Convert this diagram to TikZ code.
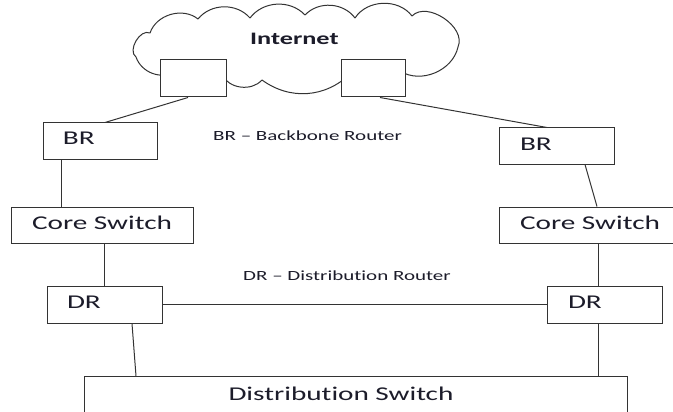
\documentclass[tikz,border=0pt]{standalone}
\usepackage{fontspec}
\setmainfont{Carlito}[FakeStretch=1.5,Ligatures=NoCommon]
\usetikzlibrary{calc}
\definecolor{ln}{HTML}{333333}
\definecolor{tx}{HTML}{1C1C2A}
\begin{document}
\begin{tikzpicture}[x=1pt,y=-1pt,
  box/.style={draw=ln,line width=1pt,fill=white,rectangle,inner ysep=0pt,
    text height=13pt,text depth=5pt,font=\fontsize{19.5}{22}\selectfont,text=tx},
  lbox/.style={box,align=left},
  wire/.style={draw=ln,line width=1pt},
  legend/.style={font=\fontsize{14}{16}\selectfont,text=tx,inner sep=0pt,anchor=base west}]
\useasboundingbox (0,0) rectangle (673,412);
\clip (0,0) rectangle (673,412);
% cloud
\draw[wire,line join=round] (175,72) to[bend left=50] (136,57) to[bend left=85] (150,33)
  to[bend left=55] (198,19) to[bend left=50] (250,18) to[bend left=50] (305,15)
  to[bend left=50] (355,18) to[bend left=55] (412,16) to[bend left=80] (458,47)
  to[bend left=55] (400,71) -- (350,74) to[bend left=40] (262,80) to[bend left=55] (222,75) -- cycle;
\coordinate (cloud) at (293,45);
\node[font=\bfseries\fontsize{17.5}{20}\selectfont,text=tx,inner sep=0pt,anchor=base west] (inet) at (250,44.3) {Internet};
\node[box,minimum width=66pt,minimum height=37pt] (lsq) at (193,78.5) {};
\node[box,minimum width=64pt,minimum height=37pt] (rsq) at (373,78.5) {};
% routers and switches
\node[lbox,inner xsep=20pt,text width=74pt,minimum height=36pt] (lbr) at (100,141) {BR};
\node[lbox,inner xsep=21pt,text width=73pt,minimum height=36pt] (rbr) at (556.5,146) {BR};
\node[box,minimum width=182pt,minimum height=36pt] (lcore) at (102,225) {Core Switch};
\node[box,minimum width=182pt,minimum height=36pt] (rcore) at (590,225) {Core Switch};
\node[lbox,inner xsep=20pt,text width=75pt,minimum height=37pt] (ldr) at (104.5,304.5) {DR};
\node[lbox,inner xsep=21pt,text width=73pt,minimum height=37pt] (rdr) at (604.5,304.5) {DR};
\node[box,anchor=north west,align=left,inner xsep=144pt,inner ysep=11pt,text width=255pt,
  text height=13pt,text depth=40pt] (ds) at (84,376) {Distribution Switch};
% legends
\node[legend] (brl) at (213,140.7) {BR – Backbone Router};
\node[legend] (drl) at (243,280) {DR – Distribution Router};
% connectors
\draw[wire] ([xshift=-5pt]lsq.south) -- ([xshift=5pt]lbr.north);
\draw[wire] ([xshift=7pt]rsq.south) -- ([xshift=-9.5pt]rbr.north);
\draw[wire] ([xshift=-39pt]lbr.south) -- ([xshift=-39pt]lbr.south |- lcore.north);
\draw[wire] ([xshift=28.5pt]rbr.south) -- ([xshift=7pt]rcore.north);
\draw[wire] (ldr.north |- lcore.south) -- (ldr.north);
\draw[wire] ([xshift=-6.5pt]rdr.north |- rcore.south) -- ([xshift=-6.5pt]rdr.north);
\draw[wire] (ldr.east) -- (rdr.west);
\draw[wire] ([xshift=27.5pt]ldr.south) -- ([xshift=31.5pt]ldr.south |- ds.north);
\draw[wire] ([xshift=-6.5pt]rdr.south) -- ([xshift=-6.5pt]rdr.south |- ds.north);
\end{tikzpicture}
\end{document}
